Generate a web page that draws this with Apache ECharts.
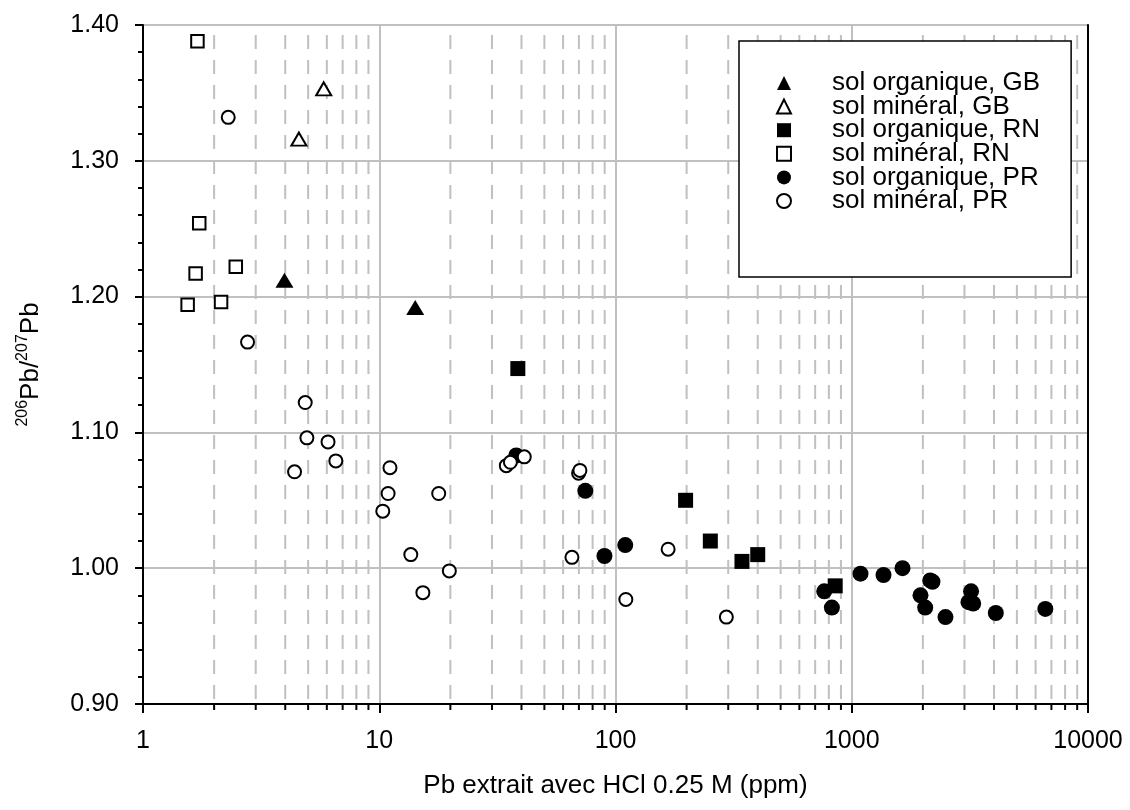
<!DOCTYPE html>
<html>
<head>
<meta charset="utf-8">
<script src="https://cdn.jsdelivr.net/npm/echarts@6/dist/echarts.min.js"></script>
<style>
  html, body { margin: 0; padding: 0; background: #fff; }
  #chart { width: 1130px; height: 810px; }
</style>
</head>
<body>
<div id="chart"></div>
<script>
// 206Pb/207Pb vs Pb extrait (HCl 0.25 M)

const seriesNames = ['sol organique, GB', 'sol minéral, GB', 'sol organique, RN', 'sol minéral, RN', 'sol organique, PR', 'sol minéral, PR'];

const orgGB = [[3.97, 1.212], [14.2, 1.192]];
const minGB = [[5.82, 1.353], [4.57, 1.316]];
const orgRN = [[38.6, 1.147], [198, 1.050], [252, 1.020], [343, 1.005], [400, 1.010], [851, 0.987]];
const minRN = [[1.70, 1.388], [1.73, 1.254], [2.47, 1.222], [1.67, 1.217], [1.545, 1.194], [2.14, 1.196]];
const orgPR = [[38.0, 1.083], [74.5, 1.057], [89.8, 1.009], [110, 1.017], [765, 0.983], [824, 0.971],
    [1089, 0.996], [1363, 0.995], [1640, 1.000], [2148, 0.991], [2196, 0.990], [1954, 0.980],
    [2046, 0.971], [2493, 0.964], [3200, 0.983], [3119, 0.975], [3265, 0.974], [4072, 0.967], [6598, 0.970]];
const minPR = [[2.295, 1.332], [2.77, 1.1665], [4.86, 1.122], [4.94, 1.096], [6.07, 1.093], [6.55, 1.079],
    [4.38, 1.071], [11.1, 1.074], [10.9, 1.055], [17.85, 1.055], [10.35, 1.042], [13.6, 1.010],
    [19.8, 0.998], [15.3, 0.982], [34.5, 1.0755], [35.9, 1.078], [41.1, 1.082], [69.8, 1.070],
    [70.7, 1.072], [65.4, 1.008], [167, 1.014], [110.6, 0.977], [294.6, 0.964]];

const xTicks = [1, 10, 100, 1000, 10000];
const xMinorTicks = [2, 3, 4, 5, 6, 7, 8, 9, 20, 30, 40, 50, 60, 70, 80, 90,
    200, 300, 400, 500, 600, 700, 800, 900, 2000, 3000, 4000, 5000, 6000, 7000, 8000, 9000];
const yTicks = [0.90, 1.00, 1.10, 1.20, 1.30, 1.40];

const FONT = '"Liberation Sans", Arial, sans-serif';
const GRID = '#c0c0c0';

const chart = echarts.init(document.getElementById('chart'), null, { renderer: 'canvas' });

function filled(name, data, symbol, size) {
    return {
        name: name, type: 'scatter', data: data, symbol: symbol, symbolSize: size,
        symbolKeepAspect: true,
        itemStyle: { color: '#000', opacity: 1 }, z: 3
    };
}
function open(name, data, symbol, size) {
    return {
        name: name, type: 'scatter', data: data, symbol: symbol, symbolSize: size,
        symbolKeepAspect: true,
        itemStyle: { color: '#fff', borderColor: '#000', borderWidth: 2, opacity: 1 }, z: 3
    };
}

const option = {
    animation: false,
    backgroundColor: '#fff',
    textStyle: { fontFamily: FONT },
    grid: { left: 143, right: 42, top: 25, bottom: 106, containLabel: false },
    legend: {
        data: seriesNames,
        orient: 'vertical',
        left: 739, top: 41,
        itemWidth: 14, itemHeight: 14,
        itemGap: -2.4,
        padding: [29, 31, 63, 37],
        borderColor: '#000', borderWidth: 1.5,
        backgroundColor: '#fff',
        textStyle: { fontSize: 26, color: '#000', fontFamily: FONT, padding: [0, 0, 0, 36] },
        selectedMode: false
    },
    xAxis: {
        type: 'log', logBase: 10, min: 1, max: 10000,
        name: 'Pb extrait avec HCl 0.25 M (ppm)',
        nameLocation: 'middle', nameGap: 69,
        nameTextStyle: { fontSize: 26, color: '#000', fontFamily: FONT },
        axisLine: { lineStyle: { color: '#000', width: 2 } },
        axisTick: { show: true, length: 9, lineStyle: { color: '#000', width: 2 } },
        axisLabel: { fontSize: 25, color: '#000', margin: 25, fontFamily: FONT,
            formatter: function (v) { return xTicks.indexOf(v) >= 0 ? String(v) : ''; } },
        splitLine: { show: true, lineStyle: { color: GRID, width: 2 } }
    },
    yAxis: [{
        type: 'value', min: 0.9, max: 1.4, interval: 0.1,
        name: '{sup|206}{main|Pb/}{sup|207}{main|Pb}',
        nameLocation: 'middle', nameGap: 99, nameRotate: 90,
        nameTextStyle: {
            color: '#000', fontFamily: FONT,
            rich: {
                main: { fontSize: 26, color: '#000', fontFamily: FONT, verticalAlign: 'bottom', lineHeight: 29 },
                sup: { fontSize: 16, color: '#000', fontFamily: FONT, verticalAlign: 'top', lineHeight: 16 }
            }
        },
        axisLine: { show: true, lineStyle: { color: '#000', width: 2 } },
        axisTick: { show: true, length: 8, lineStyle: { color: '#000', width: 2 } },
        minorTick: { show: true, splitNumber: 5, length: 5, lineStyle: { color: '#000', width: 2 } },
        axisLabel: { fontSize: 25, color: '#000', margin: 24, fontFamily: FONT,
            formatter: function (v) {
                const t = yTicks.find(function (k) { return Math.abs(k - v) < 1e-6; });
                return t !== undefined ? t.toFixed(2) : '';
            } },
        splitLine: { show: true, lineStyle: { color: GRID, width: 2 } }
    }, {
        type: 'value', min: 0.9, max: 1.4, position: 'right',
        axisLine: { show: true, onZero: false, lineStyle: { color: '#000', width: 2 } },
        axisTick: { show: false }, axisLabel: { show: false }, splitLine: { show: false }
    }],
    series: [
        {
            type: 'custom', silent: true, clip: false, z: 1,
            data: xMinorTicks.map(function (v) { return [v, 0.9]; }),
            encode: { x: 0, y: 1 },
            renderItem: function (params, api) {
                const top = api.coord([api.value(0), 1.4]);
                const bot = api.coord([api.value(0), 0.9]);
                return {
                    type: 'group',
                    children: [
                        { type: 'line', shape: { x1: top[0], y1: top[1] + 10, x2: bot[0], y2: bot[1] },
                          style: { stroke: GRID, lineWidth: 2, lineDash: [14, 11] } },
                        { type: 'line', shape: { x1: bot[0], y1: bot[1], x2: bot[0], y2: bot[1] + 6 },
                          style: { stroke: '#000', lineWidth: 2 } }
                    ]
                };
            }
        },
        filled(seriesNames[0], orgGB, 'triangle', [18, 15]),
        open(seriesNames[1], minGB, 'triangle', [15, 13]),
        filled(seriesNames[2], orgRN, 'rect', 15),
        open(seriesNames[3], minRN, 'rect', 12.5),
        filled(seriesNames[4], orgPR, 'circle', 16),
        open(seriesNames[5], minPR, 'circle', 13)
    ]
};

chart.setOption(option);
</script>
</body>
</html>
